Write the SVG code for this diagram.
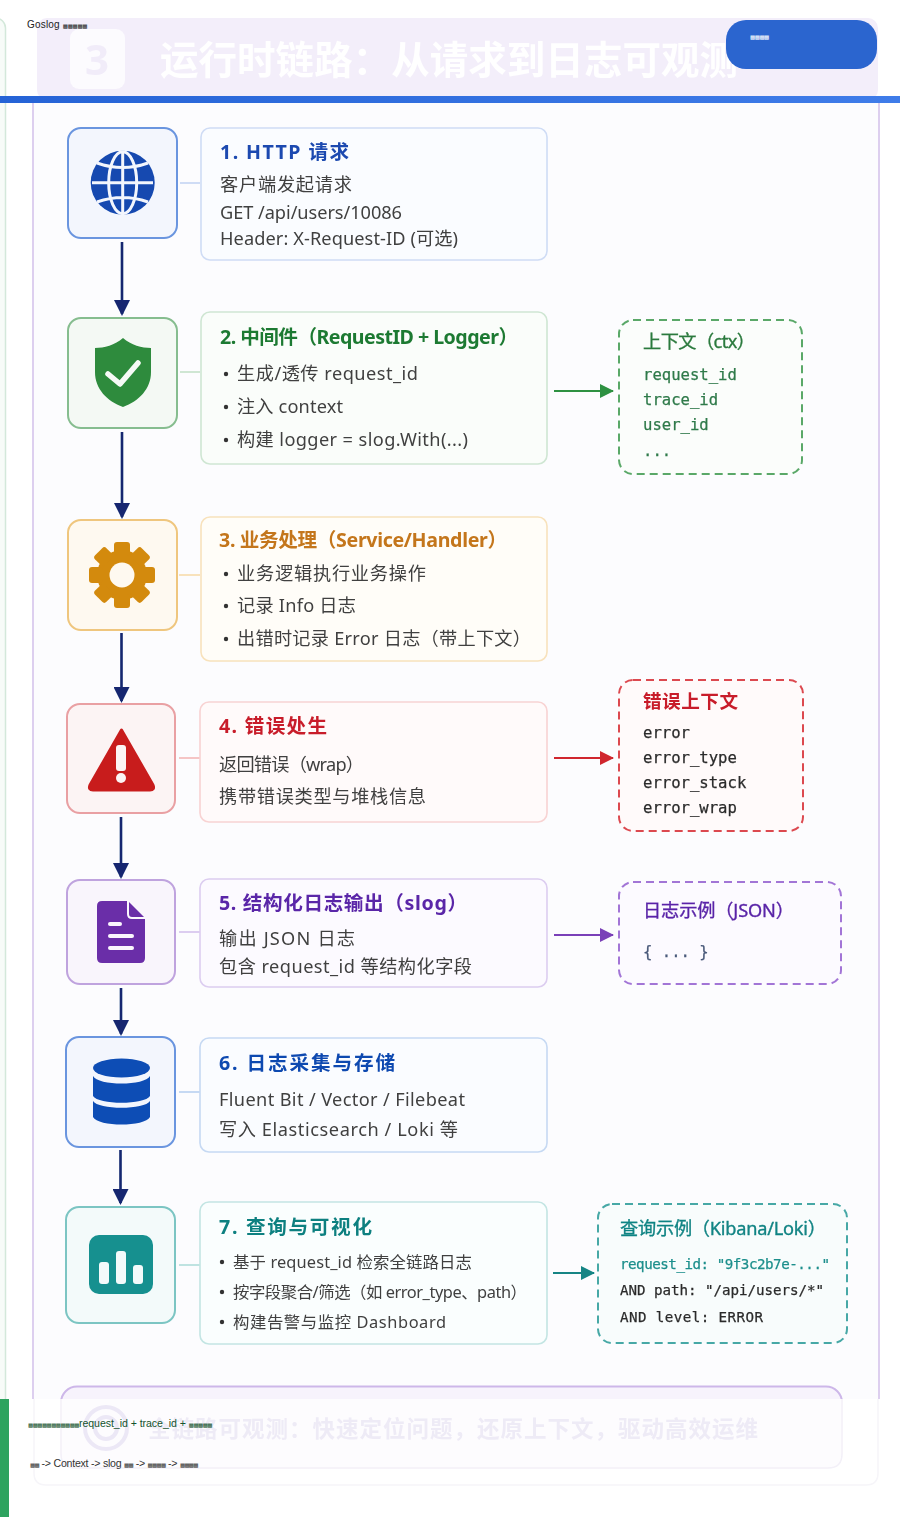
<svg xmlns="http://www.w3.org/2000/svg" width="900" height="1517" viewBox="0 0 900 1517">
<style>
text{font-family:"Noto Sans","Noto Sans CJK SC",sans-serif}
.i{stroke-width:2}
.ib{fill:#f3f6fd;stroke:#6a95df}.ig{fill:#f4f9f4;stroke:#86bd8f}.io{fill:#fef9f0;stroke:#efc67e}.ir{fill:#fcf4f4;stroke:#e9a0a3}.ip{fill:#f9f5fc;stroke:#bfa3de}.it{fill:#f3fafa;stroke:#7cc5c3}
.c{stroke-width:1.6}
.cb{fill:#fafcff;stroke:#cfdcf5}.cg{fill:#fafdfa;stroke:#cfe6d3}.co{fill:#fffdf8;stroke:#f8e2bc}.cr{fill:#fffafa;stroke:#f8d3d3}.cp{fill:#fcfaff;stroke:#dccdf0}.cl{fill:#fafcff;stroke:#c6d9f3}.ct{fill:#fafefe;stroke:#c3e5e3}
.d{stroke-width:2;stroke-dasharray:8 5}
.t{font-size:19.6px;font-weight:700}
.b{font-size:18.2px;fill:#3f3f3f}
.s{font-size:16.4px;fill:#3f3f3f}
.h{font-size:18.6px;font-weight:700}
.h2{font-size:18.2px;stroke-width:.35}
.m{font-family:"DejaVu Sans Mono",monospace;font-size:15.6px;fill:#2b2b2b;stroke:#2b2b2b;stroke-width:.25}
.mg{fill:#2f7a4a;stroke:#2f7a4a}
.q{font-family:"DejaVu Sans Mono",monospace;font-size:14.2px;fill:#2b2b2b;stroke:#2b2b2b;stroke-width:.25}
.l{stroke-width:2;fill:none}
.v{stroke:#13286f;stroke-width:2.6;fill:none}
.x{font-family:"Liberation Sans",Arial,sans-serif;font-size:10.6px}
.f{font-family:"DejaVu Sans",sans-serif;font-size:5.5px;letter-spacing:-.5px}
.dot{fill:#333}
</style>
<defs>
<linearGradient id="bar" x1="0" x2="1" y1="0" y2="0"><stop offset="0" stop-color="#2563d6"/><stop offset="1" stop-color="#3f7ce9"/></linearGradient>
<marker id="av" markerUnits="userSpaceOnUse" markerWidth="16" markerHeight="16" refX="14" refY="8" orient="auto" viewBox="0 0 16 16"><path d="M0 0L16 8L0 16Z" fill="#13286f"/></marker>
<marker id="ag" markerUnits="userSpaceOnUse" markerWidth="14" markerHeight="14" refX="13" refY="7" orient="auto"><path d="M0 0L14 7L0 14Z" fill="#2f9142"/></marker>
<marker id="ar" markerUnits="userSpaceOnUse" markerWidth="14" markerHeight="14" refX="13" refY="7" orient="auto"><path d="M0 0L14 7L0 14Z" fill="#d0272d"/></marker>
<marker id="ap" markerUnits="userSpaceOnUse" markerWidth="14" markerHeight="14" refX="13" refY="7" orient="auto"><path d="M0 0L14 7L0 14Z" fill="#7a3fb8"/></marker>
<marker id="at" markerUnits="userSpaceOnUse" markerWidth="14" markerHeight="14" refX="13" refY="7" orient="auto"><path d="M0 0L14 7L0 14Z" fill="#128484"/></marker>
<filter id="soft" x="-2%" y="-2%" width="104%" height="104%"><feGaussianBlur stdDeviation="0.5"/></filter>
<filter id="soft2" x="-2%" y="-2%" width="104%" height="104%"><feGaussianBlur stdDeviation="0.6"/></filter>
</defs>
<rect width="900" height="1517" fill="#fff"/>
<g id="backdrop">
<rect x="-20" y="18" width="25.500" height="1400" rx="10" fill="#f7fbf8" stroke="#d3e8da" stroke-width="1.500"/>
<rect x="37" y="18" width="841" height="82" rx="10" fill="#f3eefa"/>
<rect x="33" y="100" width="846" height="1320" fill="#fcfcfe" stroke="#ddcfef" stroke-width="2"/>
</g>
<g id="header-fade" filter="url(#soft2)">
<rect x="70" y="29" width="55" height="60" rx="9" fill="#fcfbfe"/>
<text x="97" y="75" font-size="42" font-weight="700" fill="#f1ecf9" text-anchor="middle">3</text>
<text x="160" y="74" font-size="38.500" font-weight="700" fill="#fff" textLength="578">运行时链路：从请求到日志可观测</text>
</g>
<g id="flow" filter="url(#soft)">
<g id="connectors">
<g stroke-width="2" fill="none">
<path d="M180 183H200" stroke="#cfdcf5"/><path d="M180 372H200" stroke="#cfe6d3"/><path d="M179 575H200" stroke="#f8e2bc"/><path d="M179 758H200" stroke="#f5c5c5"/><path d="M179 932H200" stroke="#dccdf0"/><path d="M179 1092H200" stroke="#c6d9f3"/><path d="M179 1265H200" stroke="#bfe3e1"/>
</g>
<path class="v" d="M122 242V314" marker-end="url(#av)"/>
<path class="v" d="M122 432V517" marker-end="url(#av)"/>
<path class="v" d="M121.500 633V701" marker-end="url(#av)"/>
<path class="v" d="M121 817V877" marker-end="url(#av)"/>
<path class="v" d="M121 988V1034" marker-end="url(#av)"/>
<path class="v" d="M120.500 1150V1203" marker-end="url(#av)"/>
<path class="l" stroke="#2f9142" d="M554 391H613" marker-end="url(#ag)"/>
<path class="l" stroke="#d0272d" d="M554 758H613" marker-end="url(#ar)"/>
<path class="l" stroke="#7a3fb8" d="M554 935H613" marker-end="url(#ap)"/>
<path class="l" stroke="#128484" d="M553 1273H594" marker-end="url(#at)"/>
</g>
<g id="node1">
<rect class="i ib" x="68" y="128" width="109" height="110" rx="13"/>
<circle cx="122.700" cy="182.700" r="32" fill="#1449b0"/>
<g fill="none" stroke="#f3f6fd" stroke-width="3"><ellipse cx="122.700" cy="182.700" rx="14" ry="31"/><path d="M122.700 151V214M97 163Q122.700 172 148 163M92 182.700H153M97 202Q122.700 193 148 202"/></g>
<rect class="c cb" x="201" y="128" width="346" height="132" rx="9"/>
<text class="t" x="220" y="159" fill="#1d4ab0" textLength="129">1. HTTP 请求</text>
<text class="b" x="220" y="191" textLength="132">客户端发起请求</text>
<text class="b" x="220" y="219" textLength="182">GET /api/users/10086</text>
<text class="b" x="220" y="245" textLength="238">Header: X-Request-ID (可选)</text>
</g>
<g id="node2">
<rect class="i ig" x="68" y="318" width="109" height="110" rx="13"/>
<path d="M123 338C131 345 142 348 151 348V372C151 389 139 401 123 407C107 401 95 389 95 372V348C104 348 115 345 123 338Z" fill="#2e8b3d"/>
<path d="M108 374L120 384L138 363" fill="none" stroke="#f6faf6" stroke-width="5.500" stroke-linecap="round" stroke-linejoin="round"/>
<rect class="c cg" x="201" y="312" width="346" height="152" rx="9"/>
<text class="t" x="220" y="344" fill="#1f7a33" textLength="298">2. 中间件（RequestID + Logger）</text>
<circle class="dot" cx="226" cy="374" r="2.200"/><circle class="dot" cx="226" cy="407" r="2.200"/><circle class="dot" cx="226" cy="440" r="2.200"/>
<text class="b" x="237" y="380" textLength="181">生成/透传 request_id</text>
<text class="b" x="237" y="413" textLength="106">注入 context</text>
<text class="b" x="237" y="446" textLength="231">构建 logger = slog.With(...)</text>
</g>
<g id="ctx">
<rect class="d" x="619" y="320" width="183" height="154" rx="14" fill="#fbfdfb" stroke="#5aa868"/>
<text class="h2" x="643" y="348" fill="#2b7a3d" stroke="#2b7a3d" textLength="112">上下文（ctx）</text>
<text class="m mg" x="643" y="380">request_id</text><text class="m mg" x="643" y="405">trace_id</text><text class="m mg" x="643" y="430">user_id</text><text class="m mg" x="643" y="456">...</text>
</g>
<g id="node3">
<rect class="i io" x="68" y="520" width="109" height="110" rx="13"/>
<g fill="#d38a0e"><circle cx="122" cy="575" r="25"/>
<g id="gear-teeth"><rect x="114" y="542" width="16" height="14" rx="3"/><rect x="114" y="594" width="16" height="14" rx="3"/><rect x="89" y="567" width="14" height="16" rx="3"/><rect x="141" y="567" width="14" height="16" rx="3"/><rect x="114" y="542" width="16" height="14" rx="3" transform="rotate(45 122 575)"/><rect x="114" y="542" width="16" height="14" rx="3" transform="rotate(135 122 575)"/><rect x="114" y="542" width="16" height="14" rx="3" transform="rotate(225 122 575)"/><rect x="114" y="542" width="16" height="14" rx="3" transform="rotate(315 122 575)"/></g></g>
<circle cx="122" cy="575" r="12.500" fill="#fef9f0"/>
<rect class="c co" x="201" y="517" width="346" height="144" rx="9"/>
<text class="t" x="219" y="547" fill="#c4761a" textLength="288">3. 业务处理（Service/Handler）</text>
<circle class="dot" cx="226" cy="574" r="2.200"/><circle class="dot" cx="226" cy="606" r="2.200"/><circle class="dot" cx="226" cy="639" r="2.200"/>
<text class="b" x="237" y="580" textLength="189">业务逻辑执行业务操作</text>
<text class="b" x="237" y="612" textLength="119">记录 Info 日志</text>
<text class="b" x="237" y="645" textLength="294">出错时记录 Error 日志（带上下文）</text>
</g>
<g id="node4">
<rect class="i ir" x="67" y="704" width="108" height="109" rx="13"/>
<path d="M121.500 730L153 785Q155 790 150 790H93Q88 790 90 785Z" fill="#c81e1e" stroke="#c81e1e" stroke-width="3" stroke-linejoin="round"/>
<rect x="116" y="745" width="10" height="26" rx="3" fill="#fcf4f4"/><circle cx="121" cy="778" r="5" fill="#fcf4f4"/>
<rect class="c cr" x="200" y="702" width="347" height="120" rx="9"/>
<text class="t" x="219" y="733" fill="#c81e2a" textLength="108">4. 错误处生</text>
<text class="b" x="219" y="771" textLength="145">返回错误（wrap）</text>
<text class="b" x="219" y="803" textLength="207">携带错误类型与堆栈信息</text>
</g>
<g id="err">
<rect class="d" x="619" y="680" width="184" height="151" rx="14" fill="#fffafa" stroke="#dc4a50"/>
<text class="h" x="643" y="708" fill="#c81e2a" textLength="95">错误上下文</text>
<text class="m" x="643" y="738">error</text><text class="m" x="643" y="763">error_type</text><text class="m" x="643" y="788">error_stack</text><text class="m" x="643" y="813">error_wrap</text>
</g>
<g id="node5">
<rect class="i ip" x="67" y="880" width="108" height="104" rx="13"/>
<path d="M102 901H128L145 918V958Q145 963 140 963H102Q97 963 97 958V906Q97 901 102 901Z" fill="#6b2fa8"/>
<path d="M128 901V914Q128 918 132 918H145" fill="none" stroke="#faf7fd" stroke-width="2"/>
<g fill="#faf7fd"><rect x="108" y="922" width="14" height="4" rx="2"/><rect x="108" y="934" width="26" height="4" rx="2"/><rect x="108" y="946" width="26" height="4" rx="2"/></g>
<rect class="c cp" x="200" y="879" width="347" height="108" rx="9"/>
<text class="t" x="219" y="910" fill="#5a25a8" textLength="248">5. 结构化日志输出（slog）</text>
<text class="b" x="219" y="945" textLength="136">输出 JSON 日志</text>
<text class="b" x="219" y="973" textLength="253">包含 request_id 等结构化字段</text>
</g>
<g id="json">
<rect class="d" x="619" y="882" width="222" height="102" rx="14" fill="#fcfaff" stroke="#a274d6"/>
<text class="h2" x="643" y="917" fill="#5a25a8" stroke="#5a25a8" textLength="151">日志示例（JSON）</text>
<text class="m" style="fill:#4a5a7a;stroke:#4a5a7a" x="643" y="957">{ ... }</text>
</g>
<g id="node6">
<rect class="i ib" x="66" y="1037" width="109" height="110" rx="13"/>
<g fill="#0f4db5"><ellipse cx="121.500" cy="1068" rx="28.500" ry="9.500"/>
<path d="M93 1076C98 1086 145 1086 150 1076V1096C145 1105 98 1105 93 1096Z"/>
<path d="M93 1101C98 1110 145 1110 150 1101V1117C145 1127 98 1127 93 1117Z"/></g>
<rect class="c cl" x="200" y="1038" width="347" height="114" rx="9"/>
<text class="t" x="219" y="1070" fill="#1049b0" textLength="176">6. 日志采集与存储</text>
<text class="b" x="219" y="1106" textLength="246">Fluent Bit / Vector / Filebeat</text>
<text class="b" x="219" y="1136" textLength="239">写入 Elasticsearch / Loki 等</text>
</g>
<g id="node7">
<rect class="i it" x="66" y="1207" width="109" height="116" rx="13"/>
<rect x="89" y="1235" width="64" height="59" rx="10" fill="#14908f"/>
<g fill="#f3fafa"><rect x="99" y="1262" width="10" height="22" rx="3"/><rect x="116" y="1251" width="10" height="33" rx="3"/><rect x="133" y="1265" width="10" height="19" rx="3"/></g>
<rect class="c ct" x="200" y="1202" width="347" height="142" rx="9"/>
<text class="t" x="219" y="1234" fill="#0f8080" textLength="153">7. 查询与可视化</text>
<circle class="dot" cx="222" cy="1262" r="2.200"/><circle class="dot" cx="222" cy="1292" r="2.200"/><circle class="dot" cx="222" cy="1322" r="2.200"/>
<text class="s" x="233" y="1268" textLength="239">基于 request_id 检索全链路日志</text>
<text class="s" x="233" y="1298" textLength="294">按字段聚合/筛选（如 error_type、path）</text>
<text class="s" x="233" y="1328" textLength="213">构建告警与监控 Dashboard</text>
</g>
<g id="query">
<rect class="d" x="598" y="1204" width="249" height="139" rx="14" fill="#f8fcfc" stroke="#46a8a6"/>
<text class="h2" x="620" y="1235" fill="#128484" stroke="#128484" textLength="206">查询示例（Kibana/Loki）</text>
<text class="q" x="620" y="1269" style="fill:#1d8f8c;stroke:#1d8f8c" textLength="210">request_id: "9f3c2b7e-..."</text>
<text class="q" x="620" y="1295" textLength="204">AND path: "/api/users/*"</text>
<text class="q" x="620" y="1322" textLength="143">AND level: ERROR</text>
</g>
<g id="summary-top">
<rect x="61" y="1386.500" width="781" height="100" rx="16" fill="#f7f3fc" stroke="#cdb7e9" stroke-width="2"/>
</g>
</g>
<rect id="footer-veil" x="0" y="1399" width="900" height="118" fill="#fff"/>
<g id="footer-fade" filter="url(#soft)">
<path d="M34 1399V1473Q34 1485 46 1485H866Q878 1485 878 1473V1399" fill="none" stroke="#f6f5f9" stroke-width="1.500"/>
<path d="M61 1399V1454Q61 1468 75 1468H828Q842 1468 842 1454V1399" fill="#fdfcfe" stroke="#f3f0f8" stroke-width="1.500"/>
<g fill="none" stroke="#ece8f6" stroke-width="4"><circle cx="106" cy="1428" r="21"/><circle cx="106" cy="1428" r="11"/></g>
<text x="148" y="1437" font-size="22.500" font-weight="700" fill="#eeebf6" textLength="610">全链路可观测：快速定位问题，还原上下文，驱动高效运维</text>
</g>
<rect id="footer-accent" x="0" y="1399" width="9" height="118" fill="#2ea35f"/>
<rect id="top-rule" x="0" y="96" width="900" height="7" fill="url(#bar)"/>
<g id="pill">
<rect x="726" y="20" width="151" height="49" rx="20" fill="#2b65cf"/>
<text x="750" y="39" class="f" fill="#fff">▩▩▩▩</text>
</g>
<g id="overlay-text">
<text class="x" style="font-size:10px" x="27" y="28" fill="#222" textLength="60">Goslog <tspan class="f">▩▩▩▩▩</tspan></text>
<text class="x" x="28" y="1427" fill="#14532d" textLength="184"><tspan class="f">▩▩▩▩▩▩▩▩▩▩▩</tspan>request_id + trace_id + <tspan class="f">▩▩▩▩▩</tspan></text>
<text class="x" x="30" y="1467" fill="#333" textLength="168"><tspan class="f">▩▩</tspan> -&gt; Context -&gt; slog <tspan class="f">▩▩</tspan> -&gt; <tspan class="f">▩▩▩▩</tspan> -&gt; <tspan class="f">▩▩▩▩</tspan></text>
</g>
</svg>
